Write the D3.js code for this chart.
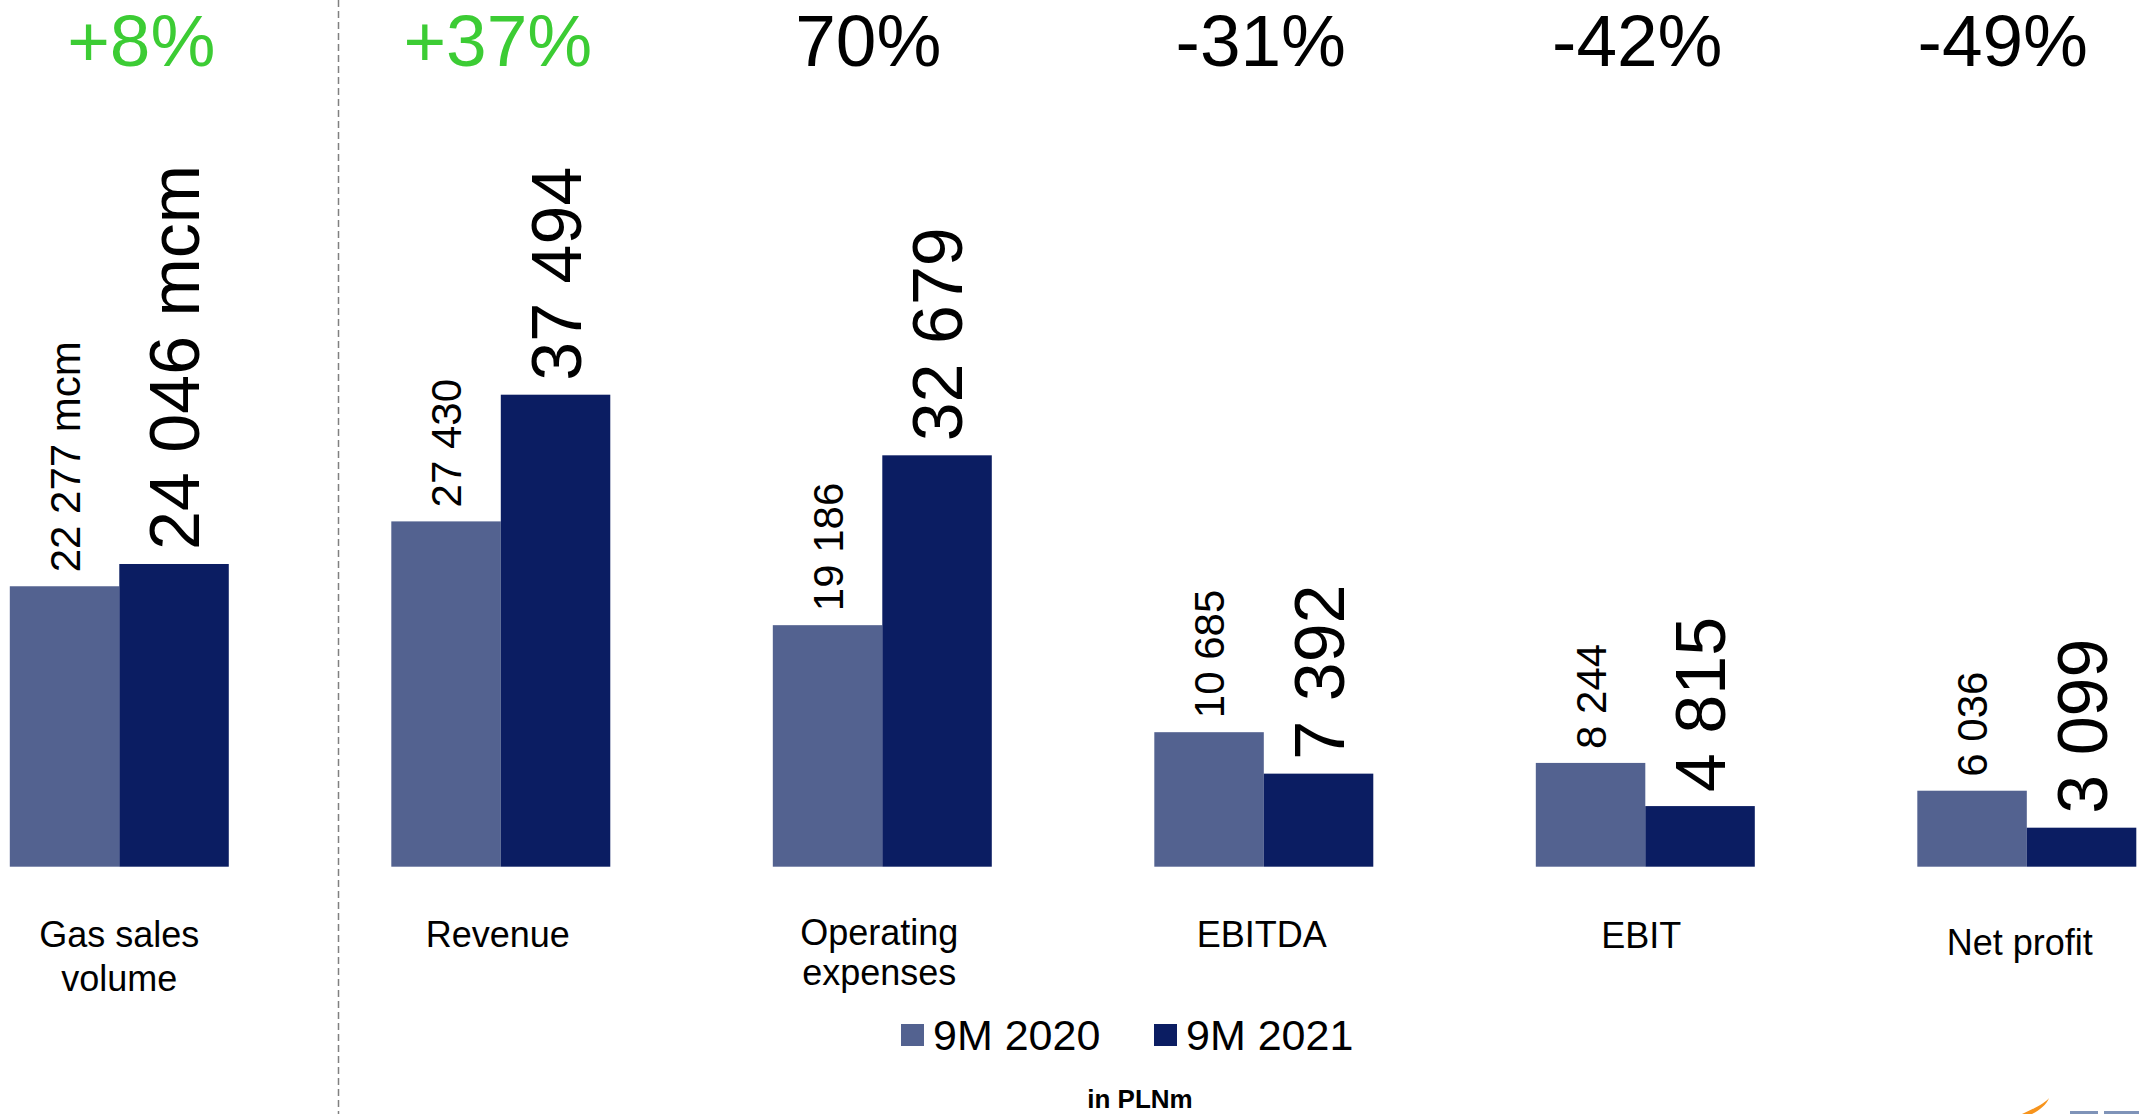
<!DOCTYPE html>
<html>
<head>
<meta charset="utf-8">
<script src="https://cdn.jsdelivr.net/npm/d3@7"></script>
<style>
  html, body { margin: 0; padding: 0; background: #ffffff; }
  svg { display: block; }
  text { font-family: "Liberation Sans", Arial, sans-serif; }
</style>
</head>
<body>
<svg id="chart" width="2139" height="1114"></svg>
<script>
// ---------- data ----------
const categories = ["Gas sales volume", "Revenue", "Operating expenses", "EBITDA", "EBIT", "Net profit"];
const categoryLines = [["Gas sales", "volume"], ["Revenue"], ["Operating", "expenses"], ["EBITDA"], ["EBIT"], ["Net profit"]];
const seriesNames = ["9M 2020", "9M 2021"];
const values2020 = [22277, 27430, 19186, 10685, 8244, 6036];
const values2021 = [24046, 37494, 32679, 7392, 4815, 3099];
const valueSuffix = [" mcm", "", "", "", "", ""];
const changeLabels = ["+8%", "+37%", "70%", "-31%", "-42%", "-49%"];
const changePositive = [true, true, false, false, false, false];
const unitNote = "in PLNm";

// ---------- layout / style ----------
const W = 2139, H = 1114;
const baseline = 866.7;
const colors = { "9M 2020": "#536290", "9M 2021": "#0b1d62" };
const green = "#3ccc34";
const pctNudge = [22, -3, -14, -3, -8, -24];
const catNudgeX = [0, -3, -3, -2, -4, -7];
const catNudgeY = [0, 0, -2, 0, 1, 8];
const catLineH = [44, 0, 40, 0, 0, 0];
const smallFont = 42, bigFont = 70, labelGap = 14;

const svg = d3.select("#chart");

const fmt = d3.formatLocale({ decimal: ".", thousands: " ", grouping: [3], currency: ["", ""] }).format(",d");

const x0 = d3.scaleBand().domain(categories).range([9.8, 2136.3]).paddingInner(0.426).paddingOuter(0);
const x1 = d3.scaleBand().domain(seriesNames).range([0, x0.bandwidth()]).padding(0);
const y = d3.scaleLinear().domain([0, 37494]).range([baseline, baseline - 472]);

const rows = categories.map((c, i) => ({
  cat: c, i,
  bars: [
    { s: seriesNames[0], v: values2020[i], big: false },
    { s: seriesNames[1], v: values2021[i], big: true }
  ]
}));

// separator dashed line (between gas volume and financials)
svg.append("line")
  .attr("x1", 338.5).attr("x2", 338.5).attr("y1", 0).attr("y2", H)
  .attr("stroke", "#808080").attr("stroke-width", 1.5).attr("stroke-dasharray", "7,4");

const g = svg.selectAll("g.cat").data(rows).join("g")
  .attr("class", "cat")
  .attr("transform", d => `translate(${x0(d.cat)},0)`);

// bars
g.selectAll("rect").data(d => d.bars).join("rect")
  .attr("x", b => x1(b.s))
  .attr("width", x1.bandwidth())
  .attr("y", b => y(b.v))
  .attr("height", b => baseline - y(b.v))
  .attr("fill", b => colors[b.s]);

// value labels (rotated)
g.selectAll("text.val").data(d => d.bars.map(b => ({ ...b, i: d.i }))).join("text")
  .attr("class", "val")
  .attr("transform", b => `translate(${x1(b.s) + x1.bandwidth() / 2},${y(b.v) - labelGap}) rotate(-90)`)
  .attr("dy", b => (b.big ? bigFont : smallFont) * 0.358)
  .attr("text-anchor", "start")
  .attr("font-size", b => b.big ? bigFont : smallFont)
  .attr("fill", "#000")
  .text(b => fmt(b.v) + valueSuffix[b.i]);

// change percentages
svg.selectAll("text.pct").data(changeLabels).join("text")
  .attr("class", "pct")
  .attr("x", (t, i) => x0(categories[i]) + x0.bandwidth() / 2 + pctNudge[i])
  .attr("y", 66)
  .attr("text-anchor", "middle")
  .attr("font-size", 73)
  .attr("fill", (t, i) => changePositive[i] ? green : "#000")
  .text(t => t);

// category labels
svg.selectAll("text.catlab").data(categories).join("text")
  .attr("class", "catlab")
  .attr("y", (c, i) => 947 + catNudgeY[i])
  .attr("text-anchor", "middle")
  .attr("font-size", 36)
  .attr("fill", "#000")
  .each(function (c, i) {
    const t = d3.select(this);
    categoryLines[i].forEach((line, k) => {
      t.append("tspan")
        .attr("x", x0(c) + x0.bandwidth() / 2 + catNudgeX[i])
        .attr("dy", k === 0 ? 0 : catLineH[i])
        .text(line);
    });
  });

// legend
const legendX = [901, 1154];
const leg = svg.selectAll("g.leg").data(seriesNames).join("g")
  .attr("class", "leg")
  .attr("transform", (s, i) => `translate(${legendX[i]},0)`);
leg.append("rect").attr("x", 0).attr("y", 1024).attr("width", 23).attr("height", 22)
  .attr("fill", s => colors[s]);
leg.append("text").attr("x", 32).attr("y", 1050).attr("font-size", 43).attr("fill", "#000")
  .text(s => s);

// unit note
svg.append("text").attr("x", 1140).attr("y", 1108).attr("text-anchor", "middle")
  .attr("font-size", 26).attr("font-weight", "bold").attr("fill", "#000").text(unitNote);

// cropped logo fragment at bottom right
svg.append("path")
  .attr("d", "M2022,1114 C2036,1108 2046,1102 2049,1098 C2047,1104 2040,1110 2032,1114 Z")
  .attr("fill", "#f7941d");
svg.append("rect").attr("x", 2070).attr("y", 1111).attr("width", 28).attr("height", 3).attr("fill", "#7f93b8");
svg.append("rect").attr("x", 2104).attr("y", 1111).attr("width", 35).attr("height", 3).attr("fill", "#7f93b8");
</script>
</body>
</html>
